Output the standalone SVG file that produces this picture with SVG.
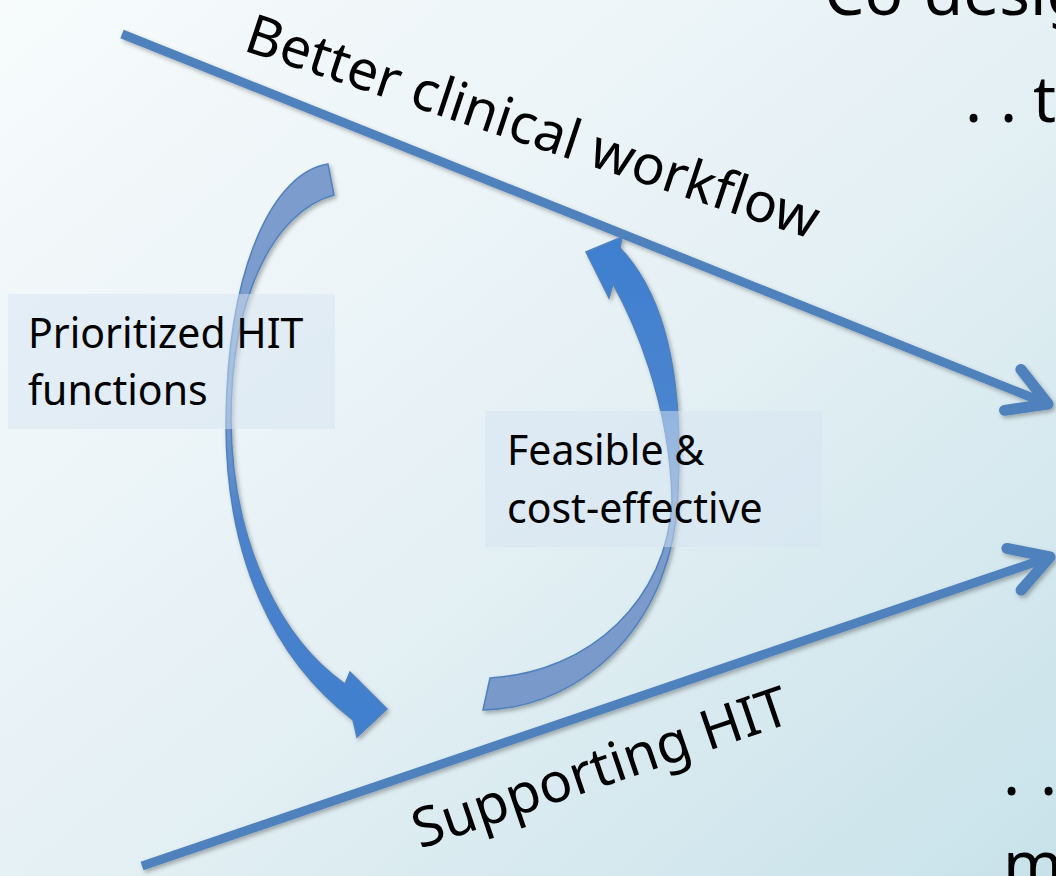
<svg xmlns="http://www.w3.org/2000/svg" width="1056" height="876" viewBox="0 0 1056 876">
  <defs>
    <linearGradient id="bg" x1="0" y1="0" x2="1" y2="1">
      <stop offset="0" stop-color="#f7fbfc"/>
      <stop offset="0.5" stop-color="#e6f1f5"/>
      <stop offset="1" stop-color="#c8e2ea"/>
    </linearGradient>
    <linearGradient id="g1" gradientUnits="userSpaceOnUse" x1="0" y1="164" x2="0" y2="737">
      <stop offset="0" stop-color="#7b9ccd"/>
      <stop offset="0.42" stop-color="#7b9ccd"/>
      <stop offset="0.62" stop-color="#4d82cb"/>
      <stop offset="1" stop-color="#4080cf"/>
    </linearGradient>
    <linearGradient id="g2" gradientUnits="userSpaceOnUse" x1="0" y1="237" x2="0" y2="712">
      <stop offset="0" stop-color="#3f7fd0"/>
      <stop offset="0.35" stop-color="#4a84cf"/>
      <stop offset="0.6" stop-color="#7b9bcc"/>
      <stop offset="1" stop-color="#7a99cb"/>
    </linearGradient>
    <filter id="sh" x="-10%" y="-10%" width="120%" height="120%">
      <feDropShadow dx="2" dy="2.5" stdDeviation="2" flood-color="#000" flood-opacity="0.3"/>
    </filter>
    <marker id="head" markerUnits="userSpaceOnUse" orient="auto" markerWidth="80" markerHeight="80" refX="40" refY="40" viewBox="0 0 80 80" overflow="visible">
      <path d="M 2,18 L 40,40 L 2,62" fill="none" stroke="#4f81bd" stroke-width="11" stroke-linecap="round" stroke-linejoin="round"/>
    </marker>
    <style>
      .ln { fill: none; stroke: #4f81bd; stroke-width: 9; }
      .cur { stroke: #4f81bd; stroke-width: 1.5; stroke-linejoin: miter; }
      .box { fill: #d6e3f1; fill-opacity: 0.5; }
      .t { font-family: "Noto Sans", "Open Sans", sans-serif; fill: #000; }
      .lbl { font-size: 41px; }
      .big { font-size: 55px; }
      .side { font-size: 64px; }
    </style>
  </defs>
  <rect x="0" y="0" width="1056" height="876" fill="url(#bg)"/>

  <g id="connectors" filter="url(#sh)">
    <path id="cycle-down" class="cur" fill="url(#g1)" d="M 328,164 C 275,172 228,262 226,420 C 225,560 275,660 353,720 L 357,737 L 387,709 L 350,672 L 345,684 C 282,640 232,545 231,420 C 231,300 272,212 334,195 Z"/>
    <path id="cycle-up" class="cur" fill="url(#g2)" d="M 483,710 C 585,708 676,620 678,490 C 683,390 670,300 620,248 L 622,237 L 586,252 L 609,298 L 613,284 C 632,318 670,400 672,500 C 668,600 590,672 490,678 Z"/>
    <line class="ln" x1="122" y1="34" x2="1048" y2="404" marker-end="url(#head)"/>
    <line class="ln" x1="142" y1="866" x2="1050" y2="557" marker-end="url(#head)"/>
  </g>

  <g id="label-better">
    <text class="t big" transform="translate(242,50) rotate(18.4)">Better clinical workflow</text>
  </g>
  <g id="label-supporting">
    <text class="t big" transform="translate(420,849) rotate(-18.8)">Supporting HIT</text>
  </g>

  <g id="node-prioritized">
    <rect class="box" x="8" y="294" width="327" height="135"/>
    <text class="t lbl" x="28" y="348">Prioritized HIT</text>
    <text class="t lbl" x="28" y="405">functions</text>
  </g>
  <g id="node-feasible">
    <rect class="box" x="485" y="411" width="337" height="136"/>
    <text class="t lbl" x="507" y="465">Feasible &amp;</text>
    <text class="t lbl" x="507" y="523">cost-effective</text>
  </g>

  <g id="side-text">
    <text class="t side" x="824" y="15">Co-desig</text>
    <text class="t side" y="122"><tspan x="965">.</tspan><tspan x="1000">.</tspan><tspan x="1033">t</tspan></text>
    <text class="t side" y="795"><tspan x="1003">.</tspan><tspan x="1040">.</tspan></text>
    <text class="t side" x="1003" y="887">m</text>
  </g>
</svg>
